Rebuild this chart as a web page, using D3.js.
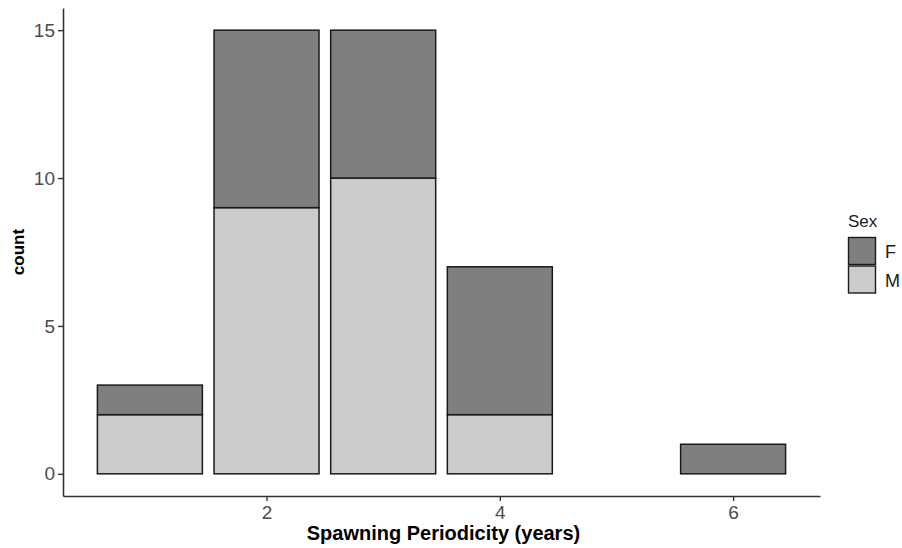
<!DOCTYPE html>
<html>
<head>
<meta charset="utf-8">
<script src="https://cdn.jsdelivr.net/npm/d3@7"></script>
<style>
  body { margin: 0; background: #fff; }
  svg { font-family: "Liberation Sans", Arial, sans-serif; }
</style>
</head>
<body>
<div id="chart"></div>
<script>
// spawning periodicity (years) and counts by sex
const periods = [1, 2, 3, 4, 6];
const countF = [1, 6, 5, 5, 1];
const countM = [2, 9, 10, 2, 0];
const sexes = ['F', 'M'];
const yTicks = [0, 5, 10, 15];
const xTicks = [2, 4, 6];

const width = 902, height = 548;
const margin = { top: 8, right: 82, bottom: 52, left: 63 };
const innerW = 820 - margin.left;
const innerH = 496 - margin.top;

const colors = { F: '#7f7f7f', M: '#cccccc' };

const rows = periods.map((p, i) => ({ period: p, M: countM[i], F: countF[i] }));
// M at bottom, F on top
const stack = d3.stack().keys(['M', 'F'])(rows);

const x = d3.scaleLinear().domain([0.255, 6.745]).range([0, innerW]);
const y = d3.scaleLinear().domain([-0.75, 15.75]).range([innerH, 0]);
const barW = x(0.9) - x(0);

const svg = d3.select('#chart').append('svg')
    .attr('width', width)
    .attr('height', height);

const g = svg.append('g')
    .attr('transform', `translate(${margin.left}, ${margin.top})`);

stack.forEach(layer => {
    g.append('g')
        .selectAll('rect')
        .data(layer.filter(d => d[1] - d[0] > 0))
        .enter()
        .append('rect')
        .attr('x', d => x(d.data.period) - barW / 2)
        .attr('y', d => y(d[1]))
        .attr('width', barW)
        .attr('height', d => y(d[0]) - y(d[1]))
        .style('fill', colors[layer.key])
        .style('stroke', '#1a1a1a')
        .style('stroke-width', 1.5);
});

// y axis
const yAxis = g.append('g')
    .call(d3.axisLeft(y).tickValues(yTicks).tickFormat(d3.format('d')).tickSize(5).tickSizeOuter(0));
// x axis
const xAxis = g.append('g')
    .attr('transform', `translate(0, ${innerH})`)
    .call(d3.axisBottom(x).tickValues(xTicks).tickFormat(d3.format('d')).tickSize(5).tickSizeOuter(0));

[xAxis, yAxis].forEach(ax => {
    ax.select('.domain').style('stroke', '#333').style('stroke-width', 1.6);
    ax.selectAll('.tick line').style('stroke', '#333').style('stroke-width', 1.4);
    ax.selectAll('.tick text')
        .style('font-size', '19px')
        .style('fill', '#4d4d4d');
});
yAxis.selectAll('.tick text').attr('x', -8);
xAxis.selectAll('.tick text').attr('y', 10);

// axis titles
svg.append('text')
    .attr('x', margin.left + innerW / 2 + 2)
    .attr('y', 540)
    .attr('text-anchor', 'middle')
    .style('font-size', '20px')
    .style('font-weight', 'bold')
    .text('Spawning Periodicity (years)');

svg.append('text')
    .attr('transform', `translate(24, ${margin.top + innerH / 2}) rotate(-90)`)
    .attr('text-anchor', 'middle')
    .style('font-size', '17px')
    .style('font-weight', 'bold')
    .text('count');

// legend
const legend = svg.append('g').attr('transform', 'translate(848, 237)');
legend.append('text')
    .attr('x', 0)
    .attr('y', -10)
    .style('font-size', '17px')
    .style('fill', '#1a1a1a')
    .text('Sex');

const item = legend.selectAll('g.item')
    .data(sexes)
    .enter()
    .append('g')
    .attr('class', 'item')
    .attr('transform', (d, i) => `translate(0, ${i * 28.5})`);

item.append('rect')
    .attr('x', 0.5)
    .attr('y', 0.5)
    .attr('width', 27)
    .attr('height', 27)
    .style('fill', d => colors[d])
    .style('stroke', '#1a1a1a')
    .style('stroke-width', 1.4);

item.append('text')
    .attr('x', 37)
    .attr('y', 21)
    .style('font-size', '18px')
    .style('fill', '#1a1a1a')
    .text(d => d);
</script>
</body>
</html>
